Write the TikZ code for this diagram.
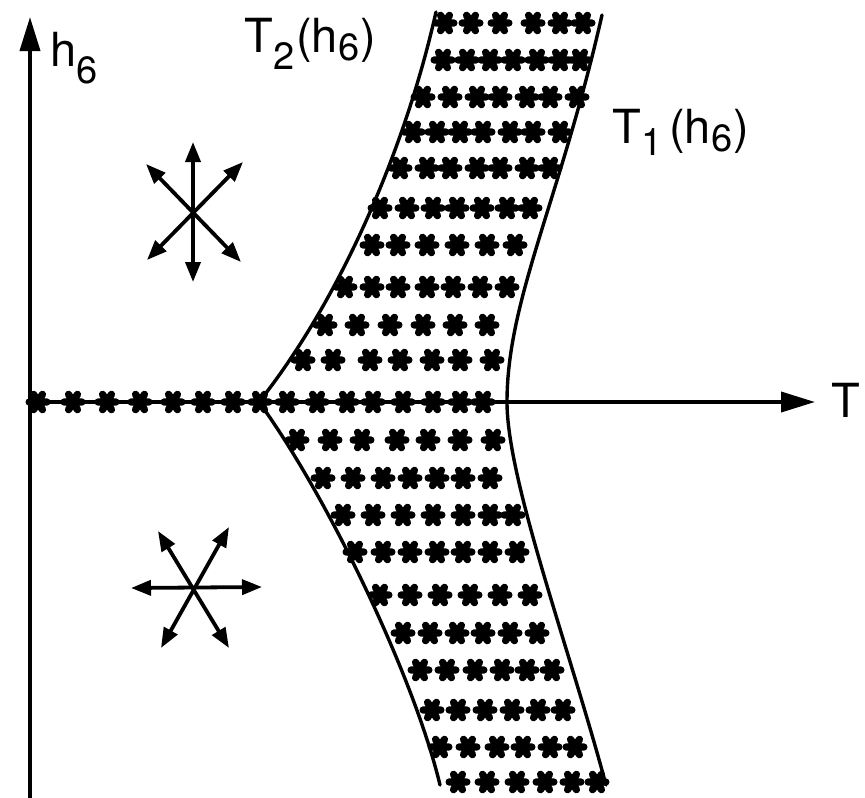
\documentclass[tikz,border=0pt]{standalone}
\usepackage{fontspec}
\setmainfont{TeX Gyre Heros}
\usetikzlibrary{arrows.meta}
\newcommand\lsub[2][15pt]{\raisebox{-#1}{\fontsize{38}{38}\selectfont #2}}
\tikzset{
  x=1pt, y=-1pt,
  axis/.style={line width=3.8pt, -{Triangle[length=34pt,width=20pt]}},
  bound/.style={line width=3.4pt, line cap=round},
  sarrow/.style={line width=3.8pt, {Triangle[length=20pt,width=15pt]}-{Triangle[length=20pt,width=15pt]}},
  lbl/.style={inner sep=0pt, font=\fontsize{47}{50}\selectfont},
  asterisk/.pic={\draw[line width=7.4pt, line cap=round] (-8.8,0)--(8.8,0) (-4.4,-7.6)--(4.4,7.6) (-4.4,7.6)--(4.4,-7.6);}
}
\begin{document}
\begin{tikzpicture}
\useasboundingbox (0,0) rectangle (865,798);
% axes
\coordinate (o) at (30,402);
\coordinate (ybot) at (30,800);
\coordinate (ytop) at (30,17);
\coordinate (xend) at (815,402);
\draw[axis] (ybot) -- (ytop);
\draw[axis] (o) -- (xend);
% boundary curves
\coordinate (t2top) at (436,12);
\coordinate (cusp) at (259,402);
\coordinate (t2bot) at (440,785);
\coordinate (t1top) at (602,15);
\coordinate (t1mid) at (507,402);
\coordinate (t1bot) at (606,785);
\draw[bound] (t2top) .. controls (405,150) and (340,300) .. (cusp)
             .. controls (330,500) and (415,680) .. (t2bot);
\draw[bound] (t1top) .. controls (560,200) and (507,300) .. (t1mid)
             .. controls (507,480) and (570,650) .. (t1bot);
% asterisks
\foreach \yy/\xs in {
  23/{445,471,500,533,560,583},
  60/{443,467,490,513,537,560,580},
  97/{423,450,477,500,527,550,577},
  132/{413,437,460,483,510,533,560},
  168/{400,427,450,477,500,527,550},
  208/{380,407,433,457,482,507,530},
  245/{372,398,427,457,487,515},
  287/{345,372,398,427,453,480,507},
  325/{325,357,390,423,455,487},
  360/{303,333,370,400,432,460,492},
  402/{38,73,107,140,173,203,233,260,287,317,347,373,403,433,460,483},
  440/{297,330,362,397,428,460,493},
  478/{323,353,383,410,437,463,490},
  515/{343,373,403,433,463,490,513},
  552/{355,383,410,437,463,490,517},
  595/{380,410,440,470,500,530},
  633/{403,430,457,483,510,537},
  670/{420,447,475,502,527,552},
  710/{432,458,485,512,538,563},
  747/{440,468,497,523,550,575},
  782/{458,487,517,545,572,597}}{
  \foreach \xx in \xs { \pic at (\xx,\yy) {asterisk}; }
}
% upper six-arrow star
\coordinate (s1) at (193,213);
\draw[sarrow] (193,142) -- (193,282);
\draw[sarrow] (146,164) -- (241,262);
\draw[sarrow] (243,162) -- (147,260);
% lower six-arrow star
\coordinate (s2) at (195,590);
\draw[sarrow] (131,588) -- (262,587);
\draw[sarrow] (158,531) -- (229,648);
\draw[sarrow] (229,527) -- (161,648);
% labels
\node[lbl, anchor=base west] (lh) at (50,66) {h\lsub[17pt]{6}};
\node[lbl, anchor=base west] (lt2) at (244,52) {T\kern1pt\lsub[17pt]{2}\kern1pt(h\kern1pt\lsub[8pt]{6}\kern1pt)};
\node[lbl, anchor=base west] (lt1) at (612,143) {T\kern1pt\lsub[12pt]{1}\kern6pt(h\kern1pt\lsub[8pt]{6}\kern1pt)};
\node[lbl, anchor=west] (lt) at (831,400) {T};
\end{tikzpicture}
\end{document}
